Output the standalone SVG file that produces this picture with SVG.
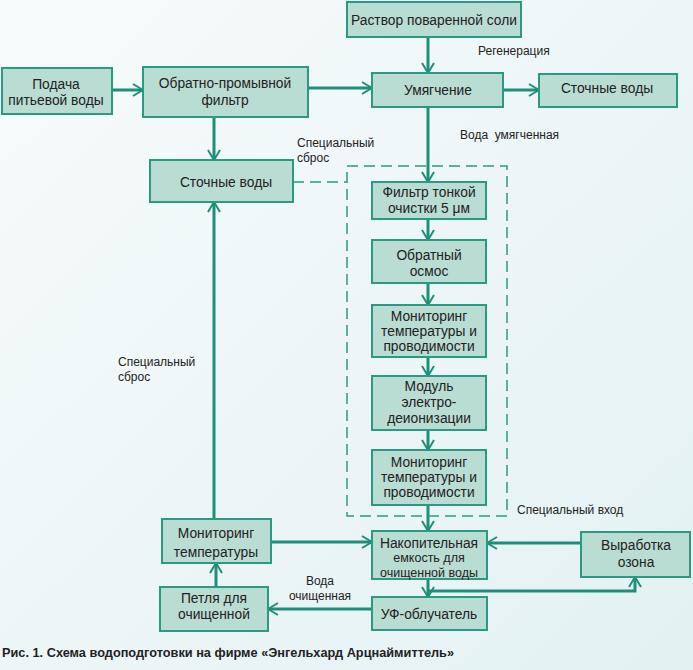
<svg xmlns="http://www.w3.org/2000/svg" width="693" height="670" viewBox="0 0 693 670">
<defs>
<linearGradient id="bg" x1="0" y1="0" x2="1" y2="1">
<stop offset="0" stop-color="#f7fbfb"/>
<stop offset="1" stop-color="#e3f1f3"/>
</linearGradient>
<marker id="arr" viewBox="0 0 12 14" refX="11" refY="7" markerWidth="12" markerHeight="14" orient="auto" markerUnits="userSpaceOnUse">
<path d="M1,1 L11,7 L1,13" fill="none" stroke="#1e8f78" stroke-width="2"/>
</marker>
<style>
.box{fill:#b9dcd3;stroke:#2a9a83;stroke-width:2}
.t{font-family:"Liberation Sans",Arial,sans-serif;font-size:13.8px;fill:#222;text-anchor:middle}
.c{font-size:12.5px}
.s{font-family:"Liberation Sans",Arial,sans-serif;font-size:12px;fill:#222}
.ln{fill:none;stroke:#1e8f78;stroke-width:3}
.a{marker-end:url(#arr)}
.dash{fill:none;stroke:#2a9a83;stroke-width:1.5;stroke-dasharray:11 6}
.cap{font-family:"Liberation Sans",Arial,sans-serif;font-size:12.5px;font-weight:bold;fill:#222}
</style>
</defs>
<rect width="693" height="670" fill="url(#bg)"/>

<g id="connectors">
<path class="ln a" d="M112,90 H143"/>
<path class="ln a" d="M308,88 H372"/>
<path class="ln a" d="M214,117 V160"/>
<path class="ln a" d="M428,37 V73"/>
<path class="ln a" d="M503,90 H539"/>
<path class="ln a" d="M428,107 V182"/>
<path class="ln a" d="M428,219 V240"/>
<path class="ln a" d="M428,283 V305"/>
<path class="ln a" d="M428,357 V376"/>
<path class="ln a" d="M428,430 V450"/>
<path class="ln a" d="M428,505 V531"/>
<path class="ln a" d="M428,579 V597"/>
<path class="ln a" d="M428,591 H635 V577"/>
<path class="ln a" d="M581,543 H487"/>
<path class="ln a" d="M271,542 H372"/>
<path class="ln a" d="M372,609 H268"/>
<path class="ln a" d="M216,587 V563"/>
<path class="ln a" d="M214,519 V202"/>
<path class="dash" d="M293,182 H347"/>
<rect class="dash" x="347" y="166" width="160" height="350"/>
</g>

<g id="n_rastvor"><rect class="box" x="347" y="2" width="174" height="35"/><text class="t" x="434" y="25">Раствор поваренной соли</text></g>
<g id="n_podacha"><rect class="box" x="2" y="68" width="110" height="46"/><text class="t" x="56" y="89">Подача</text><text class="t" x="56" y="105">питьевой воды</text></g>
<g id="n_obratno"><rect class="box" x="143" y="67" width="165" height="50"/><text class="t" x="225" y="88">Обратно-промывной</text><text class="t" x="225" y="105">фильтр</text></g>
<g id="n_umyag"><rect class="box" x="372" y="73" width="131" height="34"/><text class="t" x="438" y="95">Умягчение</text></g>
<g id="n_stok_r"><rect class="box" x="539" y="74" width="138" height="33"/><text class="t" x="607" y="93">Сточные воды</text></g>
<g id="n_stok_l"><rect class="box" x="150" y="160" width="143" height="42"/><text class="t" x="226" y="187">Сточные воды</text></g>
<g id="n_filtr"><rect class="box" x="372" y="182" width="114" height="37"/><text class="t" x="429" y="197">Фильтр тонкой</text><text class="t" x="429" y="213">очистки 5 μм</text></g>
<g id="n_osmos"><rect class="box" x="372" y="240" width="114" height="43"/><text class="t" x="429" y="260">Обратный</text><text class="t" x="429" y="276">осмос</text></g>
<g id="n_mon1"><rect class="box" x="372" y="305" width="114" height="52"/><text class="t" x="429" y="321">Мониторинг</text><text class="t" x="429" y="336">температуры и</text><text class="t" x="429" y="351">проводимости</text></g>
<g id="n_modul"><rect class="box" x="372" y="376" width="114" height="54"/><text class="t" x="429" y="391">Модуль</text><text class="t" x="429" y="407">электро-</text><text class="t" x="429" y="423">деионизации</text></g>
<g id="n_mon2"><rect class="box" x="372" y="450" width="114" height="55"/><text class="t" x="429" y="467">Мониторинг</text><text class="t" x="429" y="482">температуры и</text><text class="t" x="429" y="497">проводимости</text></g>
<g id="n_nakop"><rect class="box" x="372" y="531" width="115" height="48"/><text class="t" x="429" y="548">Накопительная</text><text class="t c" x="429" y="562">емкость для</text><text class="t c" x="429" y="577">очищенной воды</text></g>
<g id="n_ozon"><rect class="box" x="581" y="532" width="109" height="45"/><text class="t" x="636" y="550">Выработка</text><text class="t" x="636" y="567">озона</text></g>
<g id="n_uf"><rect class="box" x="372" y="597" width="115" height="33"/><text class="t" x="429" y="619">УФ-облучатель</text></g>
<g id="n_montemp"><rect class="box" x="162" y="519" width="109" height="44"/><text class="t" x="216" y="538">Мониторинг</text><text class="t" x="216" y="557">температуры</text></g>
<g id="n_petlya"><rect class="box" x="160" y="587" width="108" height="44"/><text class="t" x="214" y="603">Петля для</text><text class="t" x="214" y="619">очищенной</text></g>

<g id="labels">
<text class="s" x="478" y="55">Регенерация</text>
<text class="s" x="460" y="139" xml:space="preserve">Вода  умягченная</text>
<text class="s" x="297" y="147">Специальный</text>
<text class="s" x="297" y="162">сброс</text>
<text class="s" x="118" y="366">Специальный</text>
<text class="s" x="118" y="381">сброс</text>
<text class="s" x="517" y="514">Специальный вход</text>
<text class="s" x="320" y="585" text-anchor="middle">Вода</text>
<text class="s" x="320" y="600" text-anchor="middle">очищенная</text>
<text class="cap" x="2" y="657" textLength="452" lengthAdjust="spacingAndGlyphs">Рис. 1. Схема водоподготовки на фирме «Энгельхард Арцнаймиттель»</text>
</g>
</svg>
